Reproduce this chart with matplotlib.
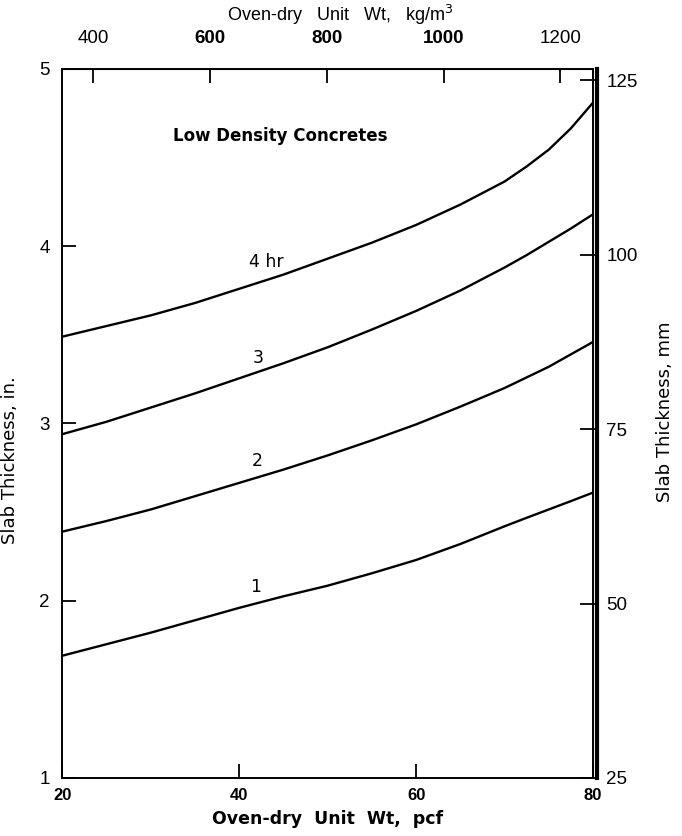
import matplotlib.pyplot as plt

# oven-dry unit weight, pcf
pcf = [20, 25, 30, 35, 40, 45, 50, 55, 60, 65, 70, 72.5, 75, 77.5, 80]

# slab thickness (in.) for each fire rating
hr4 = [3.49, 3.55, 3.61, 3.68, 3.76, 3.84, 3.93, 4.02, 4.12, 4.235, 4.365, 4.45, 4.545, 4.665, 4.81]
hr3 = [2.94, 3.01, 3.09, 3.17, 3.255, 3.34, 3.43, 3.53, 3.635, 3.75, 3.88, 3.95, 4.025, 4.10, 4.18]
hr2 = [2.39, 2.45, 2.515, 2.59, 2.665, 2.74, 2.82, 2.905, 2.995, 3.095, 3.20, 3.26, 3.32, 3.39, 3.46]
hr1 = [1.69, 1.755, 1.82, 1.89, 1.96, 2.025, 2.085, 2.155, 2.23, 2.32, 2.42, 2.468, 2.515, 2.562, 2.61]

curves = [hr4, hr3, hr2, hr1]
curve_labels = ['4 hr', '3', '2', '1']
label_pos = [(43.0, 3.91), (42.1, 3.37), (42.0, 2.79), (41.9, 2.08)]

bottom_ticks = [20, 40, 60, 80]
left_ticks = [1, 2, 3, 4, 5]
right_ticks = [25, 50, 75, 100, 125]
top_ticks = [400, 600, 800, 1000, 1200]
top_labels = ['400', '600', '800', '1000', '1200']

plt.rcParams['font.family'] = ['Liberation Sans', 'DejaVu Sans']

fig = plt.figure(figsize=(6.82, 8.36), dpi=100)
ax = fig.add_axes([0.0916, 0.0694, 0.7779, 0.8481])

for y in curves:
    ax.plot(pcf, y, color='black', lw=1.7, solid_joinstyle='round')
for txt, (x, y) in zip(curve_labels, label_pos):
    ax.text(x, y, txt, fontsize=12.5, family='DejaVu Sans', ha='center', va='center')

ax.text(44.6, 4.62, 'Low Density Concretes', fontsize=12, fontweight='bold',
        family='DejaVu Sans', ha='center', va='center')

ax.set_xlim(20, 80)
ax.set_ylim(1, 5)
ax.set_xticks(bottom_ticks)
ax.set_yticks(left_ticks)
ax.tick_params(axis='x', direction='in', length=10, width=1.3, pad=7, labelsize=12)
ax.tick_params(axis='y', direction='in', length=10, width=1.3, pad=9, labelsize=13.5)
for lab in ax.get_xticklabels():
    lab.set_fontweight('bold')
for s in ax.spines.values():
    s.set_linewidth(1.4)

ax.set_xlabel('Oven-dry  Unit  Wt,  pcf', fontsize=12.5, fontweight='bold',
              family='DejaVu Sans', labelpad=5)
ax.set_ylabel('Slab Thickness, in.', fontsize=13, family='DejaVu Sans')
ax.yaxis.set_label_coords(-0.082, 0.449)

# mm scale on the right, placed as in the original drawing
sec_y = ax.secondary_yaxis(1.007, functions=(lambda v: 25 + (v - 1) * 25.4,
                                             lambda v: 1 + (v - 25) / 25.4))
sec_y.set_yticks(right_ticks)
sec_y.tick_params(direction='in', length=12, width=1.3, pad=7, labelsize=13.5)
sec_y.spines['right'].set_linewidth(3)
ax.text(1.136, 0.516, 'Slab Thickness, mm', transform=ax.transAxes, rotation=90,
        fontsize=13, family='DejaVu Sans', ha='center', va='center')

# kg/m3 scale on top, as drawn in the original figure
sec_x = ax.secondary_xaxis('top', functions=(lambda v: 800 + (v - 49.9) * 15.15,
                                             lambda v: 49.9 + (v - 800) / 15.15))
sec_x.set_xticks(top_ticks, top_labels)
sec_x.tick_params(direction='in', length=10, width=1.3, pad=16, labelsize=13.5)
for lab in sec_x.get_xticklabels()[1:4]:
    lab.set_fontweight('bold')
ax.text(0.523, 1.076, 'Oven-dry   Unit   Wt,   kg/m$^3$', transform=ax.transAxes,
        fontsize=13, ha='center', va='center')

fig.savefig('out.png', dpi=100)
